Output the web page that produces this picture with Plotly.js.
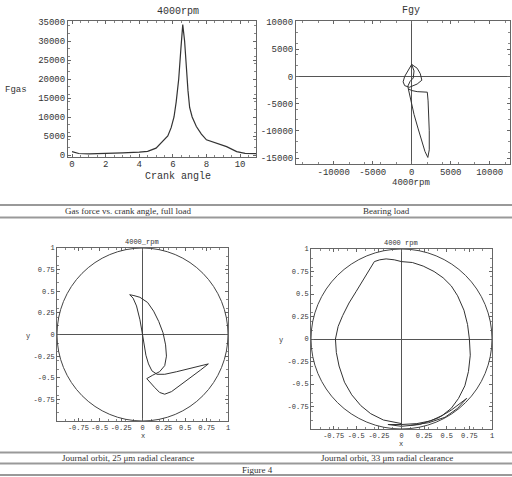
<!DOCTYPE html>
<html>
<head>
<meta charset="utf-8">
<script src="https://cdn.plot.ly/plotly-3.0.1.min.js"></script>
<style>html,body{margin:0;padding:0;background:#fff;}#chart{width:512px;height:477px;}</style>
</head>
<body>
<div id="chart"></div>
<script>
// ---- Data ----
var crankAngle = [0, 0.4, 1, 2, 3, 4, 4.5, 5, 5.25, 5.5, 5.7, 5.9, 6.07, 6.2, 6.35, 6.48, 6.59, 6.7, 6.8, 6.9, 7.0, 7.15, 7.4, 7.7, 8.0, 8.5, 9.2, 9.8, 10.3, 11];
var fgas = [900, 400, 300, 350, 550, 750, 950, 1800, 3000, 4000, 5000, 7200, 10000, 14000, 20000, 28000, 34300, 30000, 23000, 17000, 12500, 10000, 7500, 5500, 4000, 3200, 2200, 900, 450, 350];

var loadFx = [0, 700, 1100, 1300, 700, -300, -900, -1100, -900, -500, 0, 300, 200, -200, -500, -400, -100, 300, 800, 1300, 1700, 2070, 2250, 2250, 2200, 2100, 2000, 1400, 700, 0, -400];
var loadFy = [2200, 1500, 500, -700, -1400, -2000, -1700, -1000, 0, 1100, 2200, 1000, -300, -900, -1800, -2500, -4500, -7000, -9500, -12000, -13800, -14900, -13500, -10000, -7000, -4500, -2900, -2850, -2800, -2600, -2300];

var orbit25x = [-0.15, -0.11, -0.07, -0.03, 0.0, 0.02, 0.04, 0.07, 0.11, 0.17, 0.26, 0.4, 0.55, 0.68, 0.77, 0.68, 0.56, 0.44, 0.34, 0.26, 0.2, 0.14, 0.08, 0.05, 0.12, 0.2, 0.26, 0.28, 0.27, 0.24, 0.19, 0.13, 0.06, -0.03, -0.1, -0.15];
var orbit25y = [0.46, 0.42, 0.33, 0.17, 0.0, -0.12, -0.24, -0.34, -0.42, -0.46, -0.46, -0.43, -0.39, -0.36, -0.34, -0.41, -0.5, -0.59, -0.66, -0.69, -0.67, -0.61, -0.55, -0.51, -0.47, -0.43, -0.36, -0.25, -0.12, 0.02, 0.15, 0.27, 0.37, 0.43, 0.45, 0.46];

var orbit33x = [0, -0.2, -0.34, -0.45, -0.55, -0.63, -0.69, -0.72, -0.73, -0.7, -0.65, -0.58, -0.5, -0.42, -0.35, -0.3, -0.24, -0.17, -0.08, 0, 0.12, 0.24, 0.36, 0.46, 0.55, 0.62, 0.69, 0.73, 0.75, 0.76, 0.74, 0.7, 0.63, 0.55, 0.45, 0.32, 0.17, 0, -0.15, 0, 0.2, 0.4, 0.55, 0.66, 0.72, 0.62, 0.48, 0.3, 0.1];
var orbit33y = [-0.94, -0.9, -0.83, -0.74, -0.62, -0.48, -0.3, -0.15, 0, 0.14, 0.26, 0.4, 0.53, 0.66, 0.78, 0.86, 0.88, 0.89, 0.88, 0.86, 0.85, 0.81, 0.75, 0.68, 0.59, 0.48, 0.32, 0.16, 0, -0.18, -0.36, -0.52, -0.66, -0.77, -0.85, -0.91, -0.94, -0.95, -0.95, -0.97, -0.95, -0.88, -0.79, -0.71, -0.66, -0.77, -0.87, -0.93, -0.96];

var tlXTicks = [0, 2, 4, 6, 8, 10];
var tlYTicks = [0, 5000, 10000, 15000, 20000, 25000, 30000, 35000];
var trXTicks = [-10000, -5000, 0, 5000, 10000];
var trYTicks = [-15000, -10000, -5000, 0, 5000, 10000];
var orbXTicks = [-0.75, -0.5, -0.25, 0, 0.25, 0.5, 0.75, 1];
var orbXText = ['-0.75', '-0.5', '-0.25', '0', '0.25', '0.5', '0.75', '1'];
var orbYTicks = [-0.75, -0.5, -0.25, 0, 0.25, 0.5, 0.75, 1];
var orbYText = ['-0.75', '-0.5', '-0.25', '0', '0.25', '0.5', '0.75', '1'];

var captions = ['Gas force vs. crank angle, full load', 'Bearing load', 'Journal orbit, 25 μm radial clearance', 'Journal orbit, 33 μm radial clearance', 'Figure 4'];

// ---- Helpers ----
var W = 512, H = 477;
function px(x) { return x / W; }
function py(y) { return 1 - y / H; }
var mono = 'Liberation Mono, DejaVu Sans Mono, monospace';
var serif = 'Liberation Serif, DejaVu Serif, serif';
var lineCol = '#333';

function numText(vals) { return vals.map(function (v) { return String(v); }); }

function axisBase(domain, range, tickvals, ticktext, fontSize) {
  return {
    domain: domain, range: range, autorange: false,
    tickvals: tickvals, ticktext: ticktext || numText(tickvals), showgrid: false,
    showline: true, linecolor: '#666', linewidth: 1, mirror: 'allticks',
    ticks: 'inside', ticklen: 3, tickcolor: '#666',
    minor: {ticks: 'inside', ticklen: 2, tickcolor: '#888', nticks: 5},
    tickfont: {family: mono, size: fontSize, color: '#333'},
    zeroline: false, fixedrange: true
  };
}

var traces = [
  {x: crankAngle, y: fgas, xaxis: 'x', yaxis: 'y', mode: 'lines', line: {color: lineCol, width: 1.2}, hoverinfo: 'skip'},
  {x: loadFx, y: loadFy, xaxis: 'x2', yaxis: 'y2', mode: 'lines', line: {color: lineCol, width: 1}, hoverinfo: 'skip'},
  {x: orbit25x, y: orbit25y, xaxis: 'x3', yaxis: 'y3', mode: 'lines', line: {color: lineCol, width: 1}, hoverinfo: 'skip'},
  {x: orbit33x, y: orbit33y, xaxis: 'x4', yaxis: 'y4', mode: 'lines', line: {color: lineCol, width: 1}, hoverinfo: 'skip'}
];

var layout = {
  width: W, height: H,
  margin: {l: 0, r: 0, t: 0, b: 0},
  paper_bgcolor: '#fff', plot_bgcolor: '#fff',
  showlegend: false,
  xaxis: axisBase([px(68), px(256)], [-0.24, 10.95], tlXTicks, null, 9),
  yaxis: axisBase([py(157), py(21)], [-526, 35263], tlYTicks, null, 9),
  xaxis2: axisBase([px(296), px(510)], [-14833, 12603], trXTicks, null, 9),
  yaxis2: axisBase([py(164), py(21)], [-16103, 10184], trYTicks, null, 9),
  xaxis3: axisBase([px(57), px(228)], [-1, 1], orbXTicks, orbXText, 7),
  yaxis3: axisBase([py(421), py(248)], [-1, 1], orbYTicks, orbYText, 7),
  xaxis4: axisBase([px(311), px(492)], [-1, 1], orbXTicks, orbXText, 7),
  yaxis4: axisBase([py(429), py(249)], [-1, 1], orbYTicks, orbYText, 7),
  shapes: [],
  annotations: []
};
layout.xaxis.anchor = 'y'; layout.yaxis.anchor = 'x';
layout.xaxis2.anchor = 'y2'; layout.yaxis2.anchor = 'x2';
layout.xaxis3.anchor = 'y3'; layout.yaxis3.anchor = 'x3';
layout.xaxis4.anchor = 'y4'; layout.yaxis4.anchor = 'x4';
layout.xaxis.ticklabelstandoff = -2;
layout.xaxis2.ticklabelstandoff = -1;
['xaxis2', 'yaxis2', 'xaxis3', 'yaxis3', 'xaxis4', 'yaxis4'].forEach(function (k) {
  layout[k].zeroline = true; layout[k].zerolinecolor = '#555'; layout[k].zerolinewidth = 1;
});

// unit circles
layout.shapes.push({type: 'circle', xref: 'x3', yref: 'y3', x0: -1, x1: 1, y0: -1, y1: 1, line: {color: '#444', width: 1}});
layout.shapes.push({type: 'circle', xref: 'x4', yref: 'y4', x0: -1, x1: 1, y0: -1, y1: 1, line: {color: '#444', width: 1}});

// separator rules
[205, 217.5, 452.5, 463.5, 475].forEach(function (y) {
  layout.shapes.push({type: 'line', xref: 'paper', yref: 'paper', x0: 0, x1: 1, y0: py(y), y1: py(y), line: {color: '#999', width: 2}});
});

function ann(text, x, y, size, family) {
  layout.annotations.push({text: text, xref: 'paper', yref: 'paper', x: px(x), y: py(y), showarrow: false,
    xanchor: 'center', yanchor: 'middle', font: {family: family, size: size, color: '#333'}});
}
ann('4000rpm', 178, 12, 10, mono);
ann('Crank angle', 178, 177, 10, mono);
ann('Fgas', 16, 90, 9, mono);
ann('Fgy', 411, 11, 10, mono);
ann('4000rpm', 411, 183, 9, mono);
ann('4000_rpm', 142, 242, 7, mono);
ann('4000 rpm', 401, 243, 7, mono);
ann('y', 28, 336, 7, mono);
ann('y', 281, 340, 7, mono);
ann('x', 143, 436, 7, mono);
ann('x', 401, 444, 7, mono);
ann(captions[0], 128, 211, 9, serif);
ann(captions[1], 386, 211, 9, serif);
ann(captions[2], 128, 458, 9, serif);
ann(captions[3], 387, 458, 9, serif);
ann(captions[4], 257, 469.5, 9, serif);

Plotly.newPlot('chart', traces, layout, {staticPlot: true, displayModeBar: false});
</script>
</body>
</html>
